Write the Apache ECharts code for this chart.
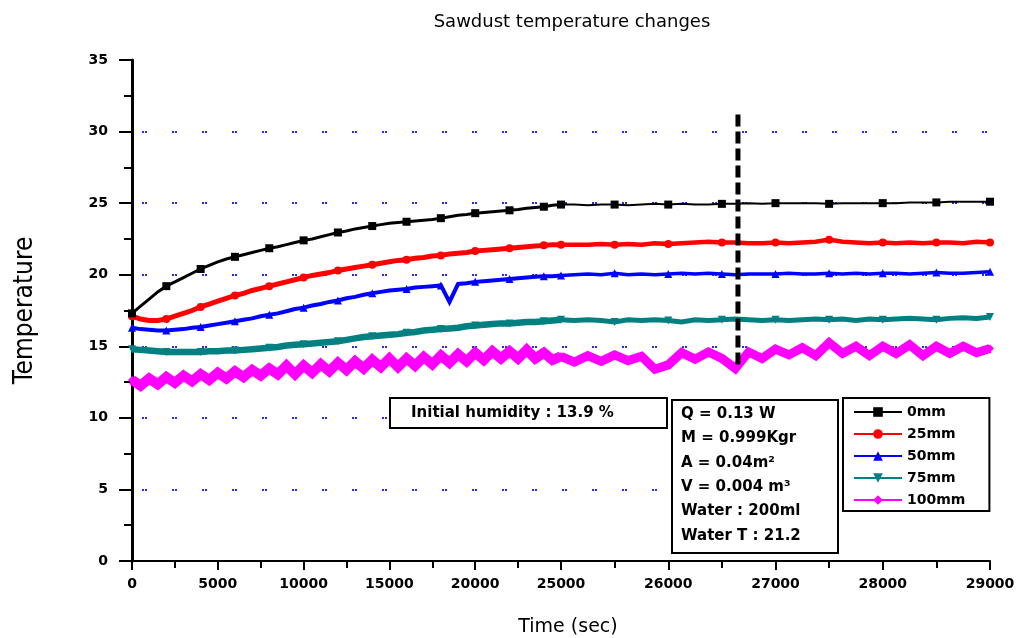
<!DOCTYPE html>
<html><head><meta charset="utf-8">
<script src="https://cdn.jsdelivr.net/npm/echarts@6/dist/echarts.min.js"></script>
<style>html,body{margin:0;padding:0;background:#fff}#c{width:1025px;height:638px}</style>
</head><body><div id="c"></div>
<script>
// ---- data ----
const seriesNames = ['0mm', '25mm', '50mm', '75mm', '100mm'];
const timeLeft = [0,500,1000,1500,2000,2500,3000,3500,4000,4500,5000,5500,6000,6500,7000,7500,8000,8500,9000,9500,10000,10500,11000,11500,12000,12500,13000,13500,14000,14500,15000,15500,16000,16500,17000,17500,18000,18500,19000,19500,20000,20500,21000,21500,22000,22500,23000,23500,24000,24500,25000];
const timeRight = [25000,25125,25250,25375,25500,25625,25750,25875,26000,26125,26250,26375,26500,26625,26750,26875,27000,27125,27250,27375,27500,27625,27750,27875,28000,28125,28250,28375,28500,28625,28750,28875,29000];

const mm0Left = [17.3,17.8,18.3,18.8,19.2,19.5,19.8,20.1,20.4,20.65,20.9,21.1,21.25,21.4,21.55,21.7,21.85,21.95,22.1,22.25,22.4,22.5,22.65,22.8,22.95,23.05,23.2,23.3,23.4,23.5,23.6,23.65,23.7,23.75,23.8,23.85,23.95,24.05,24.15,24.2,24.3,24.35,24.4,24.45,24.5,24.55,24.65,24.7,24.75,24.85,24.9];
const mm25Left = [17.1,16.9,16.8,16.8,16.9,17.1,17.3,17.5,17.75,17.95,18.15,18.35,18.55,18.7,18.9,19.05,19.2,19.35,19.5,19.65,19.8,19.95,20.05,20.15,20.3,20.4,20.5,20.6,20.7,20.8,20.9,21.0,21.05,21.15,21.2,21.3,21.35,21.45,21.5,21.55,21.65,21.7,21.75,21.8,21.85,21.9,21.95,22.0,22.05,22.1,22.1];
const mm50Left = [16.3,16.2,16.15,16.1,16.1,16.15,16.2,16.3,16.35,16.45,16.55,16.65,16.75,16.85,16.95,17.1,17.2,17.3,17.45,17.6,17.7,17.85,17.95,18.1,18.2,18.35,18.45,18.6,18.7,18.8,18.9,18.95,19.0,19.1,19.15,19.2,19.25,18.1,19.35,19.4,19.5,19.55,19.6,19.65,19.7,19.75,19.8,19.85,19.9,19.9,19.95];
const mm75Left = [14.8,14.75,14.7,14.65,14.6,14.6,14.6,14.6,14.6,14.65,14.65,14.7,14.7,14.75,14.8,14.85,14.9,14.95,15.05,15.1,15.15,15.2,15.25,15.3,15.35,15.45,15.55,15.65,15.7,15.75,15.8,15.85,15.95,16.0,16.1,16.15,16.2,16.25,16.3,16.4,16.45,16.5,16.55,16.6,16.6,16.65,16.7,16.7,16.75,16.8,16.85];
const mm100Left = [12.65,12.25,12.75,12.35,12.85,12.45,12.95,12.55,13.05,12.65,13.15,12.75,13.25,12.85,13.35,12.95,13.45,13.05,13.65,13.05,13.65,13.15,13.75,13.25,13.85,13.35,13.95,13.45,14.05,13.55,14.15,13.55,14.15,13.65,14.25,13.75,14.35,13.85,14.45,13.95,14.55,14.05,14.65,14.15,14.65,14.15,14.75,14.15,14.55,14.05,14.3];

const mm0Right = [24.9,24.9,24.85,24.9,24.9,24.85,24.9,24.95,24.9,24.95,24.9,24.9,24.95,24.95,25.0,24.95,25.0,25.0,25.0,25.0,24.95,25.0,25.0,25.0,25.0,25.0,25.05,25.05,25.05,25.1,25.1,25.1,25.1];
const mm25Right = [22.1,22.1,22.1,22.15,22.1,22.15,22.1,22.2,22.15,22.2,22.25,22.3,22.25,22.25,22.2,22.2,22.25,22.2,22.25,22.3,22.45,22.3,22.25,22.2,22.25,22.2,22.25,22.2,22.25,22.25,22.2,22.3,22.25];
const mm50Right = [19.95,20.0,20.05,20.0,20.1,20.0,20.05,20.0,20.05,20.1,20.05,20.1,20.05,20.0,20.05,20.05,20.05,20.1,20.05,20.05,20.1,20.05,20.1,20.05,20.1,20.1,20.05,20.1,20.15,20.1,20.1,20.15,20.2];
const mm75Right = [16.85,16.8,16.85,16.8,16.7,16.85,16.8,16.85,16.8,16.7,16.85,16.8,16.85,16.9,16.85,16.8,16.85,16.8,16.85,16.9,16.85,16.9,16.8,16.9,16.85,16.9,16.95,16.9,16.85,16.95,17.0,16.95,17.05];
const mm100Right = [14.3,13.9,14.35,13.95,14.4,14.0,14.3,13.4,13.7,14.55,14.1,14.6,14.15,13.45,14.6,14.15,14.8,14.4,14.9,14.35,15.25,14.5,15.0,14.35,15.0,14.5,15.1,14.35,15.0,14.5,15.0,14.55,14.85];

const markerTime = 26650;
const markerRange = [31.2, 13.4];

const xTicksLeft = [0, 25000, 5000];   // min, max, interval
const xTicksRight = [25000, 29000, 1000];
const yTicks = [0, 35, 5];

const titleText = 'Sawdust temperature changes';
const xName = 'Time (sec)';
const yName = 'Temperature';
const noteHumidity = 'Initial humidity : 13.9 %';
const noteLines = ['Q = 0.13 W', 'M = 0.999Kgr', 'A = 0.04m²', 'V = 0.004 m³', 'Water : 200ml', 'Water T : 21.2'];

// ---- style ----
const F = "'DejaVu Sans', 'Liberation Sans', sans-serif";
const colors = ['#000000', '#ff0000', '#0000ff', '#008080', '#ff00ff'];
const symbols = ['rect', 'circle', 'triangle', 'triangle', 'diamond'];
const rotates = [0, 0, 0, 180, 0];
const widthsLeft = [3, 5, 4, 6.5, 10];
const widthsRight = [2, 4.5, 3.5, 5, 9];

const leftSets = [mm0Left, mm25Left, mm50Left, mm75Left, mm100Left];
const rightSets = [mm0Right, mm25Right, mm50Right, mm75Right, mm100Right];

function mk(i, times, vals, g, w) {
  return {
    name: seriesNames[i], type: 'line', xAxisIndex: g, yAxisIndex: g,
    data: times.map((t, k) => [t, vals[k]]),
    symbol: symbols[i], symbolRotate: rotates[i],
    symbolSize: (v, p) => (p.dataIndex % 4 === 0 ? 8 : 0),
    showAllSymbol: true,
    itemStyle: { color: colors[i] },
    lineStyle: { color: colors[i], width: w, join: 'miter' },
    z: 3 + (4 - i) * 0.1,
    animation: false
  };
}
const series = [];
for (let i = 4; i >= 0; i--) {
  series.push(mk(i, timeLeft, leftSets[i], 0, widthsLeft[i]));
  series.push(mk(i, timeRight, rightSets[i], 1, widthsRight[i]));
}
series.push({
  name: 'marker', type: 'line', xAxisIndex: 1, yAxisIndex: 1,
  data: [[markerTime, markerRange[0]], [markerTime, markerRange[1]]],
  symbol: 'none', lineStyle: { color: '#000', width: 5, type: [12, 5] }, z: 6, animation: false
});

const axisLabelStyle = { color: '#000', fontFamily: F, fontWeight: 'bold', fontSize: 14 };
const blackLine = { color: '#000', width: 2 };
const splitStyle = (off) => ({ show: true, showMinLine: false, showMaxLine: false,
  lineStyle: { color: '#2a2aff', width: 2, type: [2, 1, 2, 25], dashOffset: off } });

const option = {
  backgroundColor: '#fff',
  animation: false,
  title: { text: titleText, left: 567, top: 8, textAlign: 'center',
    textStyle: { fontFamily: F, fontWeight: 'normal', fontSize: 18, color: '#000' } },
  grid: [
    { left: 132, right: 464, top: 60, bottom: 77 },
    { left: 561, right: 35, top: 60, bottom: 77 }
  ],
  xAxis: [
    { gridIndex: 0, type: 'value', min: xTicksLeft[0], max: xTicksLeft[1], interval: xTicksLeft[2],
      axisLine: { show: true, lineStyle: blackLine }, axisTick: { show: true, length: 9, lineStyle: blackLine },
      minorTick: { show: true, splitNumber: 2, length: 7, lineStyle: blackLine },
      axisLabel: Object.assign({ margin: 16, formatter: v => String(v) }, axisLabelStyle),
      splitLine: { show: false } },
    { gridIndex: 1, type: 'value', min: xTicksRight[0], max: xTicksRight[1], interval: xTicksRight[2],
      axisLine: { show: true, lineStyle: blackLine }, axisTick: { show: true, length: 9, lineStyle: blackLine },
      minorTick: { show: true, splitNumber: 2, length: 7, lineStyle: blackLine },
      axisLabel: Object.assign({ margin: 16, formatter: v => (v === xTicksRight[0] ? '' : String(v)) }, axisLabelStyle),
      splitLine: { show: false } }
  ],
  yAxis: [
    { gridIndex: 0, type: 'value', min: yTicks[0], max: yTicks[1], interval: yTicks[2],
      axisLine: { show: true, lineStyle: { color: '#000', width: 3 } },
      axisTick: { show: true, length: 13, lineStyle: blackLine },
      minorTick: { show: true, splitNumber: 2, length: 8, lineStyle: blackLine },
      axisLabel: Object.assign({ margin: 24 }, axisLabelStyle),
      splitLine: splitStyle(20),
      name: yName, nameLocation: 'middle', nameGap: 94, nameRotate: 90,
      nameTextStyle: { fontFamily: "'Liberation Sans Narrow', 'DejaVu Sans Condensed', sans-serif", fontSize: 26, color: '#000' } },
    { gridIndex: 1, type: 'value', min: yTicks[0], max: yTicks[1], interval: yTicks[2],
      axisLine: { show: false }, axisTick: { show: false }, axisLabel: { show: false },
      splitLine: splitStyle(29) }
  ],
  legend: {
    data: seriesNames, orient: 'vertical', left: 843, top: 398,
    backgroundColor: '#fff', borderColor: '#000', borderWidth: 2, borderRadius: 0,
    padding: [7, 24, 4, 10], itemWidth: 48, itemHeight: 12, itemGap: 8,
    lineStyle: { width: 2 },
    textStyle: { fontFamily: F, fontWeight: 'bold', fontSize: 14, color: '#000' },
    selectedMode: false
  },
  graphic: [
    { type: 'rect', shape: { x: 390, y: 398, width: 277, height: 30 },
      style: { fill: '#fff', stroke: '#000', lineWidth: 2 }, z: 100 },
    { type: 'text', x: 411, y: 413, z: 101,
      style: { text: noteHumidity, fill: '#000', fontFamily: F, fontWeight: 'bold', fontSize: 15, align: 'left', verticalAlign: 'middle' } },
    { type: 'rect', shape: { x: 672, y: 400, width: 166, height: 153 },
      style: { fill: '#fff', stroke: '#000', lineWidth: 2 }, z: 100 }
  ].concat(noteLines.map((t, k) => ({
      type: 'text', x: 681, y: 414 + k * 24.4, z: 101,
      style: { text: t, fill: '#000', fontFamily: F, fontWeight: 'bold', fontSize: 15, align: 'left', verticalAlign: 'middle' }
  }))).concat([
    { type: 'text', x: 568, y: 627, z: 101,
      style: { text: xName, fill: '#000', fontFamily: F, fontSize: 19, align: 'center', verticalAlign: 'middle' } }
  ]),
  series: series
};
const chart = echarts.init(document.getElementById('c'), null, { renderer: 'canvas' });
chart.setOption(option);
</script></body></html>
